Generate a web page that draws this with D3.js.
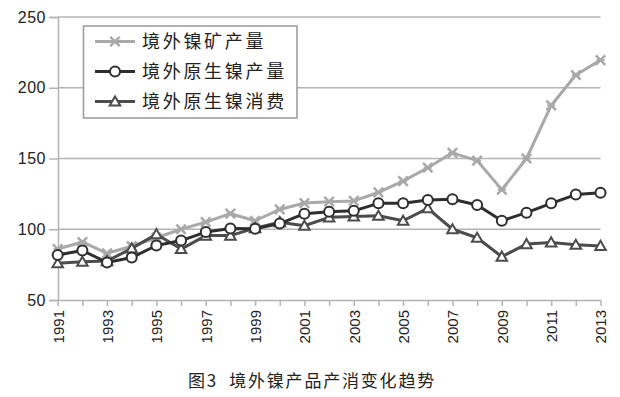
<!DOCTYPE html>
<html><head><meta charset="utf-8">
<script src="https://cdn.jsdelivr.net/npm/d3@7"></script>
<style>
html,body{margin:0;padding:0;background:#fff;}
svg{display:block;}
</style></head>
<body>
<svg id="c" width="620" height="397"></svg>
<script>
const years = d3.range(1991, 2014);
const yTicks = [50, 100, 150, 200, 250];
const seriesNames = ["境外镍矿产量", "境外原生镍产量", "境外原生镍消费"];
const mineOutput = [86, 91, 83, 88, 94, 100, 105, 111, 106, 114, 118.5, 119.5, 120, 126, 134, 143.5, 154, 148.5, 128, 150, 187.5, 209, 219.5];
const primaryOutput = [81.8, 85, 76.5, 80, 88.5, 92, 98, 100.6, 100.4, 104, 111, 112.4, 113, 118.3, 118.3, 120.7, 121.2, 117.1, 106, 111.7, 118.3, 124.5, 125.8];
const primaryConsumption = [76, 77, 77.5, 86.5, 96.5, 86, 95.5, 95.5, 100.8, 105, 102.5, 108.4, 109, 109.5, 106, 114.8, 100, 94, 80.6, 89.5, 90.7, 89, 88.2];
const title = "图3  境外镍产品产消变化趋势";

const svg = d3.select("#c");
const x = d3.scalePoint().domain(years).range([57.7, 600.5]);
const y = d3.scaleLinear().domain([50, 250]).range([300, 17]);
const grid = "#b4b4b4";

// gridlines
svg.append("g").selectAll("line").data(yTicks.filter(d => d > 50)).join("line")
  .attr("x1", 58).attr("x2", 600.5)
  .attr("y1", d => y(d)).attr("y2", d => y(d))
  .attr("stroke", grid).attr("stroke-width", 1.5);

// y axis
const ya = svg.append("g").attr("transform", "translate(58,0)")
  .call(d3.axisLeft(y).tickValues(yTicks).tickSize(9).tickPadding(3));
ya.select(".domain").attr("stroke", grid).attr("stroke-width", 1.5);
ya.selectAll(".tick line").attr("stroke", grid).attr("stroke-width", 1.5);
ya.selectAll("text").attr("fill", "#222").style("font-family", "Liberation Sans, Arial, sans-serif")
  .style("font-size", "16px").attr("letter-spacing", "0.5px");

// x axis
const xa = svg.append("g").attr("transform", "translate(0,300)")
  .call(d3.axisBottom(x).tickValues(years).tickSize(6).tickSizeOuter(0)
    .tickFormat(d => (d % 2 === 1 ? String(d) : "")));
xa.select(".domain").attr("stroke", grid).attr("stroke-width", 1.5);
xa.selectAll(".tick line").attr("stroke", grid).attr("stroke-width", 1.5);
xa.selectAll("text")
  .attr("transform", "rotate(-90)")
  .attr("x", -10).attr("y", 0).attr("dy", "0.36em")
  .style("text-anchor", "end")
  .attr("fill", "#222")
  .style("font-family", "Liberation Sans, Arial, sans-serif")
  .style("font-size", "15px");

const series = [
  { name: seriesNames[0], values: mineOutput, color: "#a9a9a9", marker: "x" },
  { name: seriesNames[2], values: primaryConsumption, color: "#4c4c4c", marker: "tri" },
  { name: seriesNames[1], values: primaryOutput, color: "#2e2e2e", marker: "circle" }
];

const line = d3.line().x((d, i) => x(years[i])).y(d => y(d));

function drawMarker(g, type, color) {
  if (type === "circle") {
    g.append("circle").attr("r", 5).attr("fill", "#fff").attr("stroke", color).attr("stroke-width", 2);
  } else if (type === "tri") {
    g.append("path").attr("d", d3.symbol(d3.symbolTriangle, 48)()).attr("transform", "translate(0,1)")
      .attr("fill", "#fff").attr("stroke", color).attr("stroke-width", 2);
  } else {
    g.append("path").attr("d", d3.symbol(d3.symbolTimes, 60)())
      .attr("fill", "none").attr("stroke", color).attr("stroke-width", 2.5);
    g.append("path").attr("d", "M-4,0H4")
      .attr("fill", "none").attr("stroke", color).attr("stroke-width", 2);
  }
}

series.forEach(s => {
  svg.append("path").datum(s.values).attr("d", line)
    .attr("fill", "none").attr("stroke", s.color).attr("stroke-width", 3).attr("stroke-linejoin", "round");
  const gm = svg.append("g");
  s.values.forEach((v, i) => {
    const g = gm.append("g").attr("transform", `translate(${x(years[i])},${y(v)})`);
    drawMarker(g, s.marker, s.color);
  });
});

// legend
const lg = svg.append("g");
lg.append("rect").attr("x", 83.5).attr("y", 26).attr("width", 213.5).attr("height", 92)
  .attr("fill", "#fff").attr("stroke", "#999").attr("stroke-width", 1.5);
const legendOrder = [series[0], series[2], series[1]];
legendOrder.forEach((s, i) => {
  const cy = 41.5 + i * 30;
  lg.append("line").attr("x1", 95).attr("x2", 135).attr("y1", cy).attr("y2", cy)
    .attr("stroke", s.color).attr("stroke-width", 3);
  const g = lg.append("g").attr("transform", `translate(115,${cy})`);
  drawMarker(g, s.marker, s.color);
  lg.append("text").attr("x", 142).attr("y", cy).attr("dy", "0.36em")
    .text(s.name).attr("fill", "#222")
    .style("font-family", "Noto Sans CJK SC, sans-serif").style("font-size", "18px")
    .attr("letter-spacing", "2.7px");
});

// title
svg.append("text").attr("x", 312).attr("y", 381).attr("dy", "0.36em")
  .attr("text-anchor", "middle").text(title).attr("fill", "#222")
  .style("white-space", "pre")
  .style("font-family", "Noto Sans CJK SC, sans-serif").style("font-size", "17px")
  .attr("letter-spacing", "1.8px");
</script>
</body></html>
